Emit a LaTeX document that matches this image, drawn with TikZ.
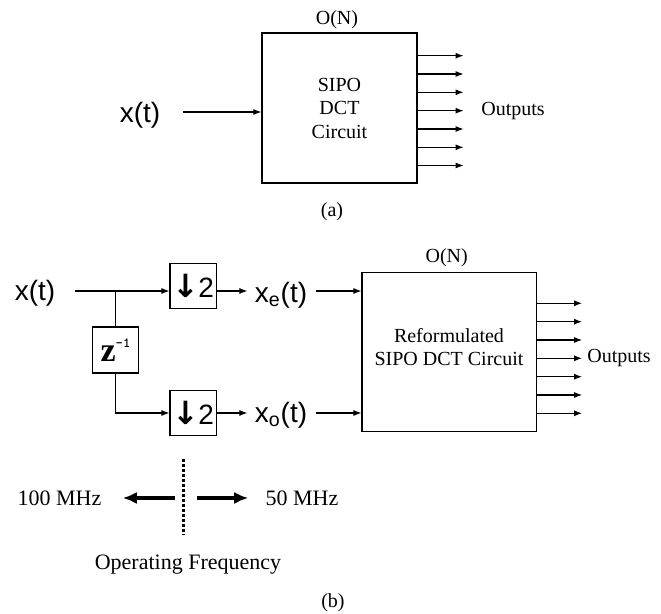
\documentclass[tikz,border=0pt]{standalone}
\usepackage{fontspec}
\setmainfont{Liberation Serif}
\newfontfamily\sigfont{Liberation Sans}
\newfontfamily\arrfont{DejaVu Sans}
\usetikzlibrary{arrows.meta,positioning}

\newcommand{\downtwo}{{\arrfont\bfseries\fontsize{16}{16}\selectfont ↓}\kern-0.5pt{\sigfont\fontsize{14}{14}\selectfont 2}}

\begin{document}
\begin{tikzpicture}[
    x=0.5pt,y=-0.5pt,
    box/.style={draw, line width=0.6pt, inner sep=0pt, align=center,
                font=\fontsize{10}{11.75}\selectfont},
    sig/.style={font=\sigfont\fontsize{14}{16}\selectfont, inner sep=0pt},
    lbl/.style={font=\fontsize{10}{12}\selectfont, inner sep=0pt},
    freq/.style={font=\fontsize{11}{13}\selectfont, inner sep=0pt},
    arrow/.style={-{Latex[length=4pt,width=3pt]}, line width=0.55pt},
    thickarrow/.style={-{Latex[length=7pt,width=6pt]}, line width=1.6pt},
    divider/.style={line width=1.6pt, dash pattern=on 1.5pt off 1pt}
]
\useasboundingbox (0,0) rectangle (661,614);

% (a) plain SIPO circuit
\node[box, minimum width=77.5pt, minimum height=75pt] (sipo) at (339.5,108) {SIPO\\DCT\\Circuit};
\node[lbl] (ona) at (337,20) {O(N)};
\node[sig] (xa) at (140,115) {x(t)};
\coordinate (xastart) at (183,112);
\draw[arrow] (xastart) -- (sipo.west |- xastart);
\foreach \y in {55.7,74,92.3,110.7,129,147.3,165.5}
    \draw[arrow] (sipo.east |- 0,\y) -- ++(46,0);
\node[lbl] (outa) at (513,110.7) {Outputs};
\node[lbl] (capa) at (332,212) {(a)};

% (b) even/odd split into the reformulated circuit
\node[sig] (xb) at (35,293) {x(t)};
\coordinate (xbstart) at (75,291);
\coordinate (split) at (115.5,291);
\node[box, minimum width=23.3pt, minimum height=22.7pt] (dse) at (193.3,286) {\downtwo};
\node[box, minimum width=22.8pt, minimum height=23pt] (zinv) at (115.5,350)
    {{\bfseries\fontsize{17}{17}\selectfont z}\raisebox{7pt}{\ttfamily\bfseries\fontsize{7}{7}\selectfont -1}};
\node[box, minimum width=23.3pt, minimum height=22.7pt] (dso) at (193.3,413) {\downtwo};
\node[sig] (xe) at (281,295) {x\textsubscript{e}(t)};
\node[sig] (xo) at (281,415) {x\textsubscript{o}(t)};
\node[box, minimum width=87.25pt, minimum height=79.7pt] (refdct) at (449.25,352) {};
\node[lbl, align=center, font=\fontsize{10}{11.5}\selectfont] (reftext) at (449,347.5) {Reformulated\\SIPO DCT Circuit};
\node[lbl] (onb) at (446.7,258) {O(N)};

\draw[arrow] (xbstart) -- (dse.west |- xbstart);
\draw (split) -- (zinv.north);
\draw[arrow] (zinv.south) |- (dso.west);
\draw[arrow, shorten >=3.5pt] (dse.east |- xbstart) -- (xe.west |- xbstart);
\draw[arrow, shorten >=3.5pt] (dso.east) -- (xo.west |- dso.east);
\draw[arrow, shorten <=4pt] (xe.east |- xbstart) -- (refdct.west |- xbstart);
\draw[arrow, shorten <=4pt] (xo.east |- dso.east) -- (refdct.west |- dso.east);
\foreach \y in {303.3,321.7,340,358.3,376.7,395,413.3}
    \draw[arrow] (refdct.east |- 0,\y) -- ++(45,0);
\node[lbl] (outb) at (619,358.3) {Outputs};

% operating frequency on either side of the split
\coordinate (divtop) at (183.3,459);
\coordinate (divbot) at (183.3,535);
\draw[divider] (divtop) -- (divbot);
\node[freq] (fast) at (59.5,498) {100 MHz};
\node[freq] (slow) at (302,498) {50 MHz};
\draw[thickarrow, shorten <=4.2pt, shorten >=10.5pt] (fast -| divtop) -- (fast.east);
\draw[thickarrow, shorten <=6.9pt, shorten >=8.5pt] (slow -| divtop) -- (slow.west);
\node[freq] (opfreq) at (188,565) {Operating Frequency};
\node[lbl] (capb) at (333,603) {(b)};
\end{tikzpicture}
\end{document}
